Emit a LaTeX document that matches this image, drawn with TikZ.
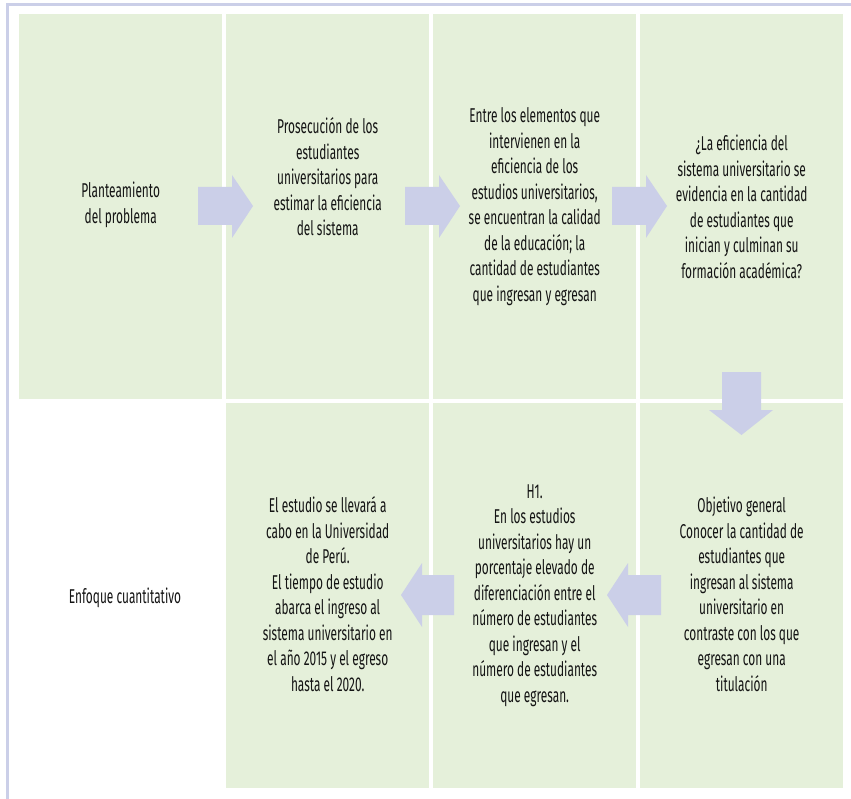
\documentclass[tikz,border=0pt]{standalone}
\usepackage{fontspec}
\setmainfont[FakeStretch=0.594]{Fira Sans}
\definecolor{cellgreen}{HTML}{E5F0DA}
\definecolor{arrowblue}{HTML}{CBCFE8}
\definecolor{inkc}{HTML}{141414}
\begin{document}
\begin{tikzpicture}[x=1pt,y=-1pt,
  cell/.style={rectangle, fill=cellgreen, anchor=north west, inner sep=0pt,
    minimum width=203pt, minimum height=385pt},
  txt/.style={align=center, text=inkc, inner sep=0pt,
    font=\fontsize{20}{25.5}\selectfont},
  blockarrow/.style={fill=arrowblue}]
\useasboundingbox (0,0) rectangle (851,799);
% frame lines
\fill[arrowblue] (6,3.5) rectangle (851,6.5);
\fill[arrowblue] (5.5,3.5) rectangle (8.5,799);
% upper row
\node[cell] (c1) at (19,14) {};
\node[cell] (c2) at (226,14) {};
\node[cell] (c3) at (433,14) {};
\node[cell] (c4) at (640,14) {};
% lower row
\node[cell] (c6) at (226,403) {};
\node[cell] (c7) at (433,403) {};
\node[cell] (c8) at (640,403) {};
% texts
\node[txt] (t1) at ([yshift=2pt]c1.center) {Planteamiento\\del problema};
\node[txt] (t2) at ([yshift=30pt]c2.center) {Prosecución de los\\estudiantes\\universitarios para\\estimar la eficiencia\\del sistema};
\node[txt] (t3) at (c3.center) {Entre los elementos que\\intervienen en la\\eficiencia de los\\estudios universitarios,\\se encuentran la calidad\\de la educación; la\\cantidad de estudiantes\\que ingresan y egresan};
\node[txt] (t4) at (c4.center) {¿La eficiencia del\\sistema universitario se\\evidencia en la cantidad\\de estudiantes que\\inician y culminan su\\formación académica?};
\node[txt] (t5) at (125,598) {Enfoque cuantitativo};
\node[txt] (t6) at ([yshift=1.5pt]c6.center) {El estudio se llevará a\\cabo en la Universidad\\de Perú.\\El tiempo de estudio\\abarca el ingreso al\\sistema universitario en\\el año 2015 y el egreso\\hasta el 2020.};
\node[txt] (t7) at (c7.center) {H1.\\En los estudios\\universitarios hay un\\porcentaje elevado de\\diferenciación entre el\\número de estudiantes\\que ingresan y el\\número de estudiantes\\que egresan.};
\node[txt] (t8) at ([yshift=1.5pt]c8.center) {Objetivo general\\Conocer la cantidad de\\estudiantes que\\ingresan al sistema\\universitario en\\contraste con los que\\egresan con una\\titulación};
% block arrows, upper row (pointing right)
\fill[blockarrow] (198,187) -- (232,187) -- (232,175) -- (253,206) -- (232,238) -- (232,225) -- (198,225) -- cycle;
\fill[blockarrow] (405,187) -- (439,187) -- (439,175) -- (460,206) -- (439,238) -- (439,225) -- (405,225) -- cycle;
\fill[blockarrow] (612,187) -- (646,187) -- (646,175) -- (667,206) -- (646,238) -- (646,225) -- (612,225) -- cycle;
% turning down
\fill[blockarrow] (722,372) -- (761,372) -- (761,410) -- (773,410) -- (741.5,435) -- (709,410) -- (722,410) -- cycle;
% lower row (pointing left)
\fill[blockarrow] (661,575) -- (628,575) -- (628,563) -- (607,595) -- (628,627) -- (628,615) -- (661,615) -- cycle;
\fill[blockarrow] (454,575) -- (422,575) -- (422,563) -- (401,595) -- (422,627) -- (422,615) -- (454,615) -- cycle;
\end{tikzpicture}
\end{document}
